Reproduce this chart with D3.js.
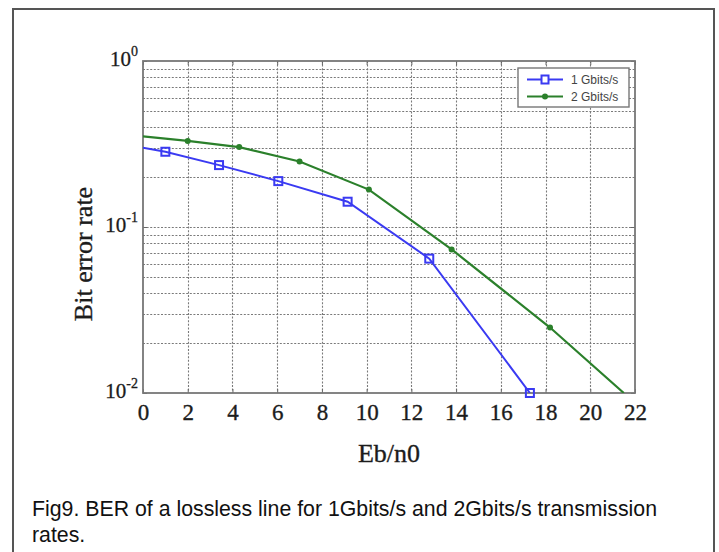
<!DOCTYPE html>
<html>
<head>
<meta charset="utf-8">
<script src="https://cdn.jsdelivr.net/npm/d3@7"></script>
<style>
  body { margin: 0; background: #fff; }
  svg { display: block; }
</style>
</head>
<body>
<div id="canvas"></div>
<script>
// series (Eb/n0 vs BER)
const blueEb  = [0, 1.0, 3.4, 6.05, 9.15, 12.8, 17.3];
const blueBer = [0.30, 0.284, 0.236, 0.189, 0.142, 0.0645, 0.0100];
const blueMark = [false, true, true, true, true, true, true];

const greenEb  = [0, 2.0, 4.3, 7.0, 10.1, 13.8, 18.2, 21.5];
const greenBer = [0.352, 0.330, 0.303, 0.248, 0.168, 0.0733, 0.0248, 0.0100];
const greenMark = [false, true, true, true, true, true, true, false];

const xTicks = [0, 2, 4, 6, 8, 10, 12, 14, 16, 18, 20, 22];
const yTicks = [1, 0.1, 0.01];
const yExp = ['0', '-1', '-2'];
const seriesNames = ['1 Gbits/s', '2 Gbits/s'];
const captionLines = [
  'Fig9. BER of a lossless line for 1Gbits/s and 2Gbits/s transmission',
  'rates.'
];

const W = 719, H = 552;
const pLeft = 143, pRight = 635, pTop = 61, pBottom = 393;
const blue = '#3a3af2', green = '#2b802b';
const ink = '#1c1c1c';
const serif = '"Liberation Serif", "DejaVu Serif", serif';
const sans = '"Liberation Sans", Arial, sans-serif';

const svg = d3.select('#canvas')
    .append('svg')
    .attr('width', W)
    .attr('height', H);

// outer figure frame (open at the bottom)
svg.append('path')
    .attr('d', `M13,${H} L13,9 L714,9 L714,${H}`)
    .attr('fill', 'none')
    .attr('stroke', '#555')
    .attr('stroke-width', 2);

const x = d3.scaleLinear().domain([0, 22]).range([pLeft, pRight]);
const y = d3.scaleLog().domain([0.01, 1]).range([pBottom, pTop]);

// grid
const grid = svg.append('g')
    .attr('stroke', '#7a7a7a')
    .attr('stroke-width', 1.1)
    .attr('stroke-dasharray', '2,1.6');

grid.selectAll('line.h')
    .data(y.ticks().filter(v => v > 0.01 && v < 1))
    .enter()
    .append('line')
    .attr('x1', pLeft).attr('x2', pRight)
    .attr('y1', d => Math.round(y(d)) + 0.5)
    .attr('y2', d => Math.round(y(d)) + 0.5);

grid.selectAll('line.v')
    .data(xTicks.filter(v => v > 0 && v < 22))
    .enter()
    .append('line')
    .attr('y1', pTop).attr('y2', pBottom)
    .attr('x1', d => Math.round(x(d)) + 0.5)
    .attr('x2', d => Math.round(x(d)) + 0.5);

// axes
const xAxis = d3.axisBottom(x)
    .tickValues(xTicks)
    .tickSize(-4)
    .tickPadding(11)
    .tickFormat(d3.format('d'));

const gx = svg.append('g')
    .attr('transform', `translate(0, ${pBottom})`)
    .call(xAxis);
gx.select('.domain').remove();
gx.selectAll('.tick line').attr('stroke', '#666');
gx.selectAll('text')
    .attr('font-family', serif)
    .attr('font-size', 23)
    .attr('fill', ink)
    .attr('stroke', ink)
    .attr('stroke-width', 0.35);

svg.append('g')
    .attr('transform', `translate(0, ${pTop})`)
    .call(d3.axisTop(x).tickValues(xTicks).tickSize(-4).tickFormat(''))
    .call(g => g.select('.domain').remove())
    .selectAll('.tick line').attr('stroke', '#666');

const gy = svg.append('g')
    .attr('transform', `translate(${pLeft}, 0)`)
    .call(d3.axisLeft(y).tickValues(yTicks).tickSize(-4).tickFormat(''));
gy.select('.domain').remove();
gy.selectAll('.tick line').attr('stroke', '#666');
gy.selectAll('.tick text').remove();

const yLab = gy.selectAll('.tick')
    .append('text')
    .attr('x', -5)
    .attr('y', 4)
    .attr('text-anchor', 'end')
    .attr('font-family', serif)
    .attr('fill', ink)
    .attr('stroke', ink)
    .attr('stroke-width', 0.3);
yLab.append('tspan')
    .attr('font-size', 21)
    .text('10');
yLab.append('tspan')
    .attr('font-size', 14)
    .attr('dy', -10)
    .text((d, i) => yExp[i]);

svg.append('g')
    .attr('transform', `translate(${pRight}, 0)`)
    .call(d3.axisRight(y).tickValues(yTicks).tickSize(-4).tickFormat(''))
    .call(g => g.select('.domain').remove())
    .selectAll('.tick line').attr('stroke', '#666');

// plot box
svg.append('rect')
    .attr('x', pLeft).attr('y', pTop)
    .attr('width', pRight - pLeft).attr('height', pBottom - pTop)
    .attr('fill', 'none')
    .attr('stroke', '#777')
    .attr('stroke-width', 1.8);

// axis titles
svg.append('text')
    .attr('x', 389)
    .attr('y', 462)
    .attr('text-anchor', 'middle')
    .attr('font-family', serif)
    .attr('font-size', 26)
    .attr('fill', ink)
    .attr('stroke', ink)
    .attr('stroke-width', 0.35)
    .text('Eb/n0');

svg.append('text')
    .attr('transform', 'translate(92, 254) rotate(-90)')
    .attr('text-anchor', 'middle')
    .attr('font-family', serif)
    .attr('font-size', 26)
    .attr('fill', ink)
    .attr('stroke', ink)
    .attr('stroke-width', 0.35)
    .text('Bit error rate');

// curves
svg.append('clipPath').attr('id', 'plotclip')
    .append('rect')
    .attr('x', pLeft).attr('y', pTop)
    .attr('width', pRight - pLeft).attr('height', pBottom - pTop);

const line = d3.line().x(d => x(d[0])).y(d => y(d[1]));
const bluePts = blueEb.map((v, i) => [v, blueBer[i], blueMark[i]]);
const greenPts = greenEb.map((v, i) => [v, greenBer[i], greenMark[i]]);

svg.append('path')
    .datum(greenPts)
    .attr('clip-path', 'url(#plotclip)')
    .attr('d', line)
    .attr('fill', 'none')
    .attr('stroke', green)
    .attr('stroke-width', 2.2);

svg.append('path')
    .datum(bluePts)
    .attr('clip-path', 'url(#plotclip)')
    .attr('d', line)
    .attr('fill', 'none')
    .attr('stroke', blue)
    .attr('stroke-width', 2);

svg.selectAll('circle.g')
    .data(greenPts.filter(d => d[2]))
    .enter()
    .append('circle')
    .attr('cx', d => x(d[0]))
    .attr('cy', d => y(d[1]))
    .attr('r', 3)
    .attr('fill', green);

svg.selectAll('rect.b')
    .data(bluePts.filter(d => d[2]))
    .enter()
    .append('rect')
    .attr('x', d => x(d[0]) - 4)
    .attr('y', d => y(d[1]) - 4)
    .attr('width', 8)
    .attr('height', 8)
    .attr('fill', 'none')
    .attr('stroke', blue)
    .attr('stroke-width', 2);

// legend
const legend = svg.append('g').attr('transform', 'translate(518, 68)');
legend.append('rect')
    .attr('width', 111).attr('height', 39)
    .attr('fill', '#fff')
    .attr('stroke', '#777')
    .attr('stroke-width', 1.4);

const legColors = [blue, green];
const items = legend.selectAll('g.item')
    .data(seriesNames)
    .enter()
    .append('g')
    .attr('transform', (d, i) => `translate(0, ${11.5 + i * 17})`);
items.append('line')
    .attr('x1', 9).attr('x2', 45)
    .attr('stroke', (d, i) => legColors[i])
    .attr('stroke-width', 2);
items.filter((d, i) => i === 0)
    .append('rect')
    .attr('x', 23.5).attr('y', -4)
    .attr('width', 7).attr('height', 8)
    .attr('fill', '#fff')
    .attr('stroke', blue)
    .attr('stroke-width', 2);
items.filter((d, i) => i === 1)
    .append('circle')
    .attr('cx', 27).attr('r', 3)
    .attr('fill', green);
items.append('text')
    .attr('x', 53)
    .attr('y', 4.5)
    .attr('font-family', sans)
    .attr('font-size', 12)
    .attr('fill', '#444')
    .text(d => d);

// caption, slightly condensed like the scanned figure
const cap = svg.selectAll('text.caption')
    .data(captionLines)
    .enter()
    .append('text')
    .attr('class', 'caption')
    .attr('x', 32)
    .attr('y', (d, i) => 516 + i * 26)
    .attr('font-family', sans)
    .attr('font-size', 22)
    .attr('fill', '#111')
    .text(d => d);
const squeeze = 625 / cap.node().getComputedTextLength();
cap.each(function () {
  const len = this.getComputedTextLength();
  d3.select(this)
      .attr('textLength', len * squeeze)
      .attr('lengthAdjust', 'spacingAndGlyphs');
});
</script>
</body>
</html>
